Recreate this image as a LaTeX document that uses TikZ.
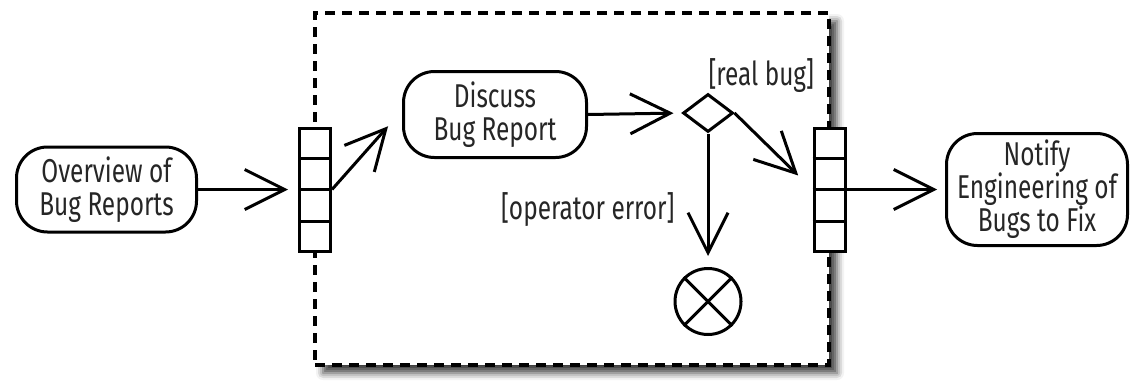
\documentclass[tikz,border=0pt]{standalone}
\usepackage{fontspec}
\setmainfont{Fira Sans}[FakeStretch=0.74]
\usetikzlibrary{arrows.meta,shapes.geometric,shadows.blur,calc}
\begin{document}
\begin{tikzpicture}[x=1pt,y=-1pt,
  line width=3pt,
  every node/.style={font=\fontsize{33}{33}\selectfont, text=black!85},
  act/.style={draw=black, fill=white, rounded corners=31pt, align=center, inner sep=0pt},
  pinbox/.style={draw=black, fill=white, minimum width=31pt, minimum height=123pt, inner sep=0pt},
  flow/.style={-{Straight Barb[length=40pt,width=40pt]}},
  region/.style={draw=black, fill=white, line width=3.5pt, dash pattern=on 10pt off 7pt,
    minimum width=514pt, minimum height=352pt, inner sep=0pt,
    blur shadow={shadow xshift=8pt, shadow yshift=-8pt, shadow blur radius=7pt, shadow opacity=75}}]
\useasboundingbox (0,0) rectangle (1131,380);
% region frame
\node[region] (frame) at (572,189) {};
% activities
\node[act, minimum width=180pt, minimum height=85pt] (ov) at (106.5,189.5) {Overview of\\Bug Reports};
\node[act, minimum width=183pt, minimum height=86pt] (disc) at (495,114.5) {Discuss\\Bug Report};
\node[act, minimum width=181pt, minimum height=112pt] (notify) at (1037,189.5) {Notify\\Engineering of\\Bugs to Fix};
% pins
\node[pinbox] (lpin) at (315,189.5) {};
\node[pinbox] (rpin) at (829.5,189.5) {};
\foreach \p in {lpin,rpin}
  \foreach \f in {0.25,0.5,0.75}
    \draw ($(\p.north west)!\f!(\p.south west)$) -- ($(\p.north east)!\f!(\p.south east)$);
% decision and final
\node[draw=black, fill=white, diamond, minimum width=50pt, minimum height=38pt, inner sep=0pt] (dia) at (708,113) {};
\node[draw=black, circle, minimum size=66pt, inner sep=0pt] (fin) at (708,301.5) {};
\draw (fin.north west) -- (fin.south east);
\draw (fin.north east) -- (fin.south west);
% guards
\node[anchor=base west, inner sep=0pt] (lreal) at (707,85) {[real bug]};
\node[anchor=base east, inner sep=0pt] (lop) at (676,219) {[operator error]};
% flows
\draw[flow, shorten >=10pt] (ov.east) -- (lpin.west);
\draw[flow, shorten >=21pt] (lpin.east) -- ([yshift=4pt]disc.west);
\draw[flow, shorten >=8pt] (disc.east) -- (dia.west);
\draw[flow, shorten >=20pt] (dia.east) -- (rpin.west);
\draw[flow, shorten >=11pt] (dia.south) -- (fin.north);
\draw[flow, shorten >=8pt] (rpin.east) -- (notify.west);
\end{tikzpicture}
\end{document}
